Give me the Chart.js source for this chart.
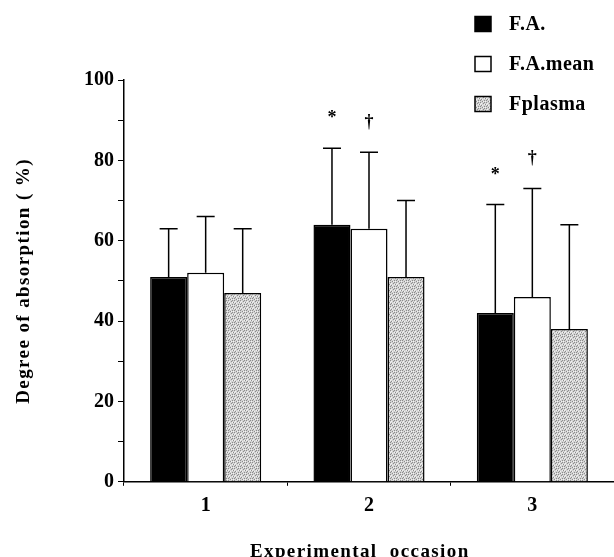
<!DOCTYPE html>
<html>
<head>
<meta charset="utf-8">
<script src="https://cdn.jsdelivr.net/npm/chart.js@4/dist/chart.umd.min.js"></script>
<style>
  html, body { margin: 0; padding: 0; background: #fff; }
  canvas { display: block; }
</style>
</head>
<body>
<canvas id="chart" width="614" height="557"></canvas>
<script>
// data
var OCCASIONS = ['1', '2', '3'];
var SERIES = ['F.A.', 'F.A.mean', 'Fplasma'];
var faValues = [51, 64, 42];
var faMeanValues = [52, 63, 46];
var fPlasmaValues = [47, 51, 38];
// upper error bars (SD)
var faErrors = [12, 19, 27];
var faMeanErrors = [14, 19, 27];
var fPlasmaErrors = [16, 19, 26];
// significance marks over the bars
var faMarks = ['', '*', '*'];
var faMeanMarks = ['', '\u2020', '\u2020'];
var fPlasmaMarks = ['', '', ''];
var Y_LABELS = [0, 20, 40, 60, 80, 100];

Chart.defaults.font.family = "'Liberation Serif', 'Times New Roman', serif";
Chart.defaults.color = '#000';

// grey stipple fill like the printed screen tone
function makeStipple() {
    var c = document.createElement('canvas');
    c.width = 6;
    c.height = 6;
    var g = c.getContext('2d');
    g.fillStyle = '#d2d2d2';
    g.fillRect(0, 0, 6, 6);
    g.fillStyle = '#8c8c8c';
    [[0, 0], [3, 1], [1, 3], [4, 4], [2, 5], [5, 2], [0, 4], [4, 0]].forEach(function (p) {
        g.fillRect(p[0], p[1], 1, 1);
    });
    g.fillStyle = '#f2f2f2';
    [[1, 1], [4, 2], [2, 3], [5, 5], [0, 2], [3, 5]].forEach(function (p) {
        g.fillRect(p[0], p[1], 1, 1);
    });
    return g.createPattern(c, 'repeat');
}

var stipple = makeStipple();

var errorBars = {
    id: 'errorBars',
    afterDatasetsDraw: function (chart) {
        var ctx = chart.ctx;
        var yScale = chart.scales.y;
        ctx.save();
        ctx.strokeStyle = '#000';
        ctx.fillStyle = '#000';
        ctx.lineWidth = 1.5;
        ctx.font = 'bold 18px ' + Chart.defaults.font.family;
        ctx.textAlign = 'center';
        ctx.textBaseline = 'alphabetic';
        chart.data.datasets.forEach(function (ds, i) {
            var meta = chart.getDatasetMeta(i);
            meta.data.forEach(function (bar, j) {
                var top = yScale.getPixelForValue(ds.data[j] + ds.errors[j]);
                ctx.beginPath();
                ctx.moveTo(bar.x, bar.y);
                ctx.lineTo(bar.x, top);
                ctx.moveTo(bar.x - 9, top);
                ctx.lineTo(bar.x + 9, top);
                ctx.stroke();
                if (ds.marks[j]) {
                    ctx.fillText(ds.marks[j], bar.x, top - 25);
                }
            });
        });
        ctx.restore();
    }
};

// the printed titles are set with wide letter spacing
var spacedTitles = {
    id: 'spacedTitles',
    beforeDraw: function (chart) {
        ['x', 'y'].forEach(function (id) {
            var scale = chart.scales[id];
            if (scale._spaced) return;
            var orig = scale.drawTitle;
            scale.drawTitle = function () {
                var c = this.ctx;
                c.save();
                c.letterSpacing = '1.4px';
                orig.apply(this, arguments);
                c.restore();
            };
            scale._spaced = true;
        });
    }
};

var legendBoxes = {
    id: 'legendBoxes',
    afterDraw: function (chart) {
        var ctx = chart.ctx;
        var x = chart.width - 139;
        ctx.save();
        ctx.font = 'bold 20px ' + Chart.defaults.font.family;
        ctx.textAlign = 'left';
        ctx.textBaseline = 'middle';
        chart.data.datasets.forEach(function (ds, i) {
            var cy = 24 + i * 40;
            ctx.fillStyle = ds.backgroundColor;
            ctx.fillRect(x, cy - 7.5, 16, 15);
            ctx.strokeStyle = '#000';
            ctx.lineWidth = 1.5;
            ctx.strokeRect(x, cy - 7.5, 16, 15);
            ctx.fillStyle = '#000';
            ctx.letterSpacing = '0.5px';
            ctx.fillText(ds.label, x + 34, cy + 1);
            ctx.letterSpacing = '0px';
        });
        ctx.restore();
    }
};

var ctx = document.getElementById('chart').getContext('2d');
new Chart(ctx, {
    type: 'bar',
    data: {
        labels: OCCASIONS,
        datasets: [{
            label: SERIES[0],
            data: faValues,
            errors: faErrors,
            marks: faMarks,
            backgroundColor: '#000',
            borderColor: '#000',
            borderWidth: 1.5
        }, {
            label: SERIES[1],
            data: faMeanValues,
            errors: faMeanErrors,
            marks: faMeanMarks,
            backgroundColor: '#fff',
            borderColor: '#000',
            borderWidth: 1.5
        }, {
            label: SERIES[2],
            data: fPlasmaValues,
            errors: fPlasmaErrors,
            marks: fPlasmaMarks,
            backgroundColor: stipple,
            borderColor: '#000',
            borderWidth: 1.5
        }]
    },
    options: {
        responsive: false,
        animation: false,
        layout: { padding: { top: 80, right: -3, bottom: -3, left: 0 } },
        datasets: { bar: { categoryPercentage: 0.68, barPercentage: 1.0 } },
        plugins: {
            legend: { display: false },
            tooltip: { enabled: false }
        },
        scales: {
            x: {
                grid: { drawOnChartArea: false, drawTicks: true, tickLength: 4, color: '#000', offset: true },
                border: { display: true, color: '#000', width: 1.5 },
                ticks: {
                    padding: 8.5,
                    font: { size: 20, weight: 'bold' }
                },
                title: {
                    display: true,
                    // trailing spaces nudge it left, where the original sits
                    text: 'Experimental  occasion   ',
                    font: { size: 19, weight: 'bold', lineHeight: 0.8 },
                    padding: { top: 18, bottom: 0 }
                }
            },
            y: {
                min: 0,
                max: 100,
                grid: { drawOnChartArea: false, drawTicks: true, tickLength: 6, color: '#000' },
                border: { display: true, color: '#000', width: 1.5 },
                ticks: {
                    stepSize: 10,
                    autoSkip: false,
                    padding: 4,
                    font: { size: 20, weight: 'bold' },
                    callback: function (value) {
                        return Y_LABELS.indexOf(value) >= 0 ? value : '';
                    }
                },
                title: {
                    display: true,
                    text: 'Degree of absorption ( %)',
                    font: { size: 19, weight: 'bold' },
                    padding: { top: 12.6, bottom: 44.6 }
                }
            }
        }
    },
    plugins: [spacedTitles, errorBars, legendBoxes]
});
</script>
</body>
</html>
